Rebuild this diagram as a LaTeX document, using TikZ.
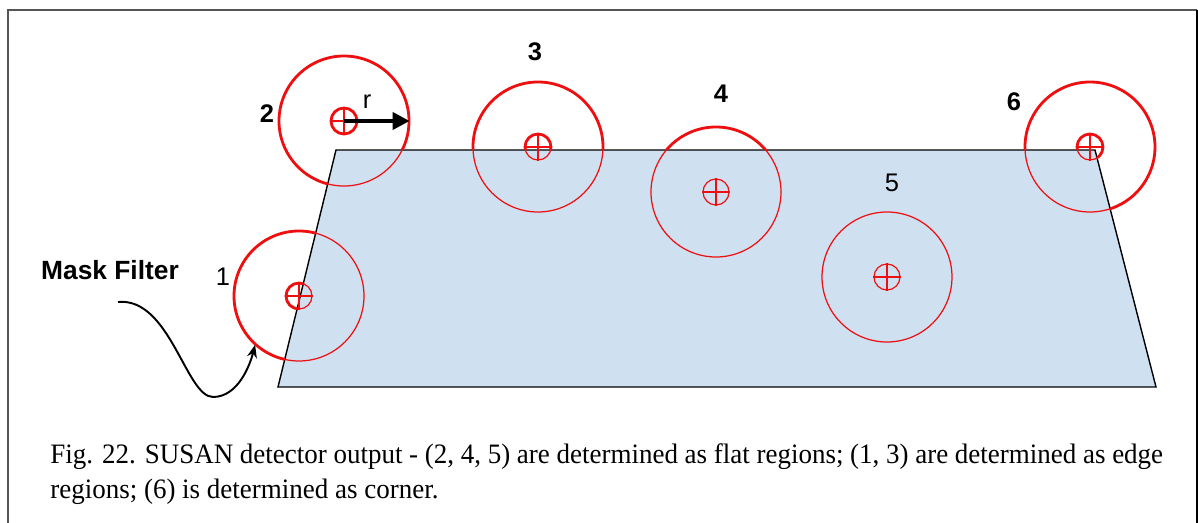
\documentclass[tikz,border=0pt]{standalone}
\usepackage{fontspec}
\setmainfont{Liberation Serif}
\setsansfont{Liberation Sans}
\newfontfamily\capfont[FakeStretch=0.96]{Liberation Serif}
\usetikzlibrary{arrows.meta}
\definecolor{plateblue}{RGB}{207,224,241}
\definecolor{maskred}{RGB}{238,16,16}
\definecolor{framegray}{RGB}{85,85,85}

\begin{document}
\begin{tikzpicture}[
  x=0.02cm, y=-0.02cm,
  frame/.style={draw=framegray, line width=1.1pt},
  plate/.style={fill=plateblue, draw=black, line width=0.8pt, line join=miter},
  ring/.style={draw=maskred, circle, inner sep=0pt, minimum size=2.6cm, line width=0.7pt},
  dot/.style={draw=maskred, circle, inner sep=0pt, minimum size=0.52cm, line width=0.7pt},
  thickring/.style={draw=maskred, line width=1.6pt},
  cross/.style={draw=maskred, line width=0.6pt},
  num/.style={font=\sffamily\bfseries\fontsize{14.5}{16}\selectfont, inner sep=0pt},
  numlite/.style={font=\sffamily\fontsize{14.5}{16}\selectfont, inner sep=0pt},
  radius arrow/.style={draw, line width=2.2pt, -{Triangle[length=3.4mm, width=3.4mm]}},
  point/.style={draw, line width=1.1pt, -{Stealth[length=2.6mm, width=2mm]}},
  caption/.style={font=\capfont\fontsize{16}{20}\selectfont, inner sep=0pt, text width=22.26cm, align=justify, anchor=north west},
]
  \useasboundingbox (0,0) rectangle (1198,523);

  % Frame round the figure
  \draw[frame] (8,523) -- (8,10) -- (1197,10);
  \draw[frame, draw=black] (1197,10) -- (1197,523);

  % Image plate (trapezoid)
  \coordinate (p1) at (336,150);
  \coordinate (p2) at (1095,150);
  \coordinate (p3) at (1156,387);
  \coordinate (p4) at (278,387);
  \draw[plate] (p1) -- (p2) -- (p3) -- (p4) -- cycle;

  % Mask centres
  \foreach \n/\x/\y in {1/299/296, 2/344/121, 3/538/147, 4/716/192, 5/887/277, 6/1090/147}
    \coordinate (c\n) at (\x,\y);

  % Masks: thin everywhere ...
  \foreach \n in {1,...,6} {
    \node[ring] (ring\n) at (c\n) {};
    \node[dot] (nucleus\n) at (c\n) {};
    \draw[cross] (nucleus\n.west) -- (nucleus\n.east) (nucleus\n.north) -- (nucleus\n.south);
  }
  % ... and heavier outside the plate
  \begin{scope}[even odd rule]
    \clip (0,0) rectangle (1198,523) (p1) -- (p2) -- (p3) -- (p4) -- cycle;
    \foreach \n in {1,...,6} {
      \draw[thickring] (c\n) circle[radius=65];
      \draw[thickring] (c\n) circle[radius=13];
    }
  \end{scope}

  % Mask numbers
  \node[numlite] (lab1) at (223,277) {1};
  \node[num] (lab2) at (267,114) {2};
  \node[num] (lab3) at (535,52) {3};
  \node[num] (lab4) at (721,94) {4};
  \node[numlite] (lab5) at (892,183) {5};
  \node[num] (lab6) at (1014,102) {6};

  % Radius of mask 2
  \draw[radius arrow] (c2) -- (ring2.east);
  \node[numlite] (rlab) at (367,102) {r};

  % Mask filter pointer
  \node[num, font=\sffamily\bfseries\fontsize{15}{17}\selectfont] (maskname) at (110,270) {Mask Filter};
  \coordinate (tail) at (118,302);
  \draw[point] (tail) .. controls (170,297) and (186,397) .. (213,397)
    .. controls (238,397) and (250,365) .. (ring1.228);

  % Caption
  \node[caption] (cap) at (50,443) {Fig. 22. SUSAN detector output - (2, 4, 5) are determined as flat regions; (1, 3) are determined as edge\linebreak regions; (6) is determined as corner.};
\end{tikzpicture}
\end{document}
